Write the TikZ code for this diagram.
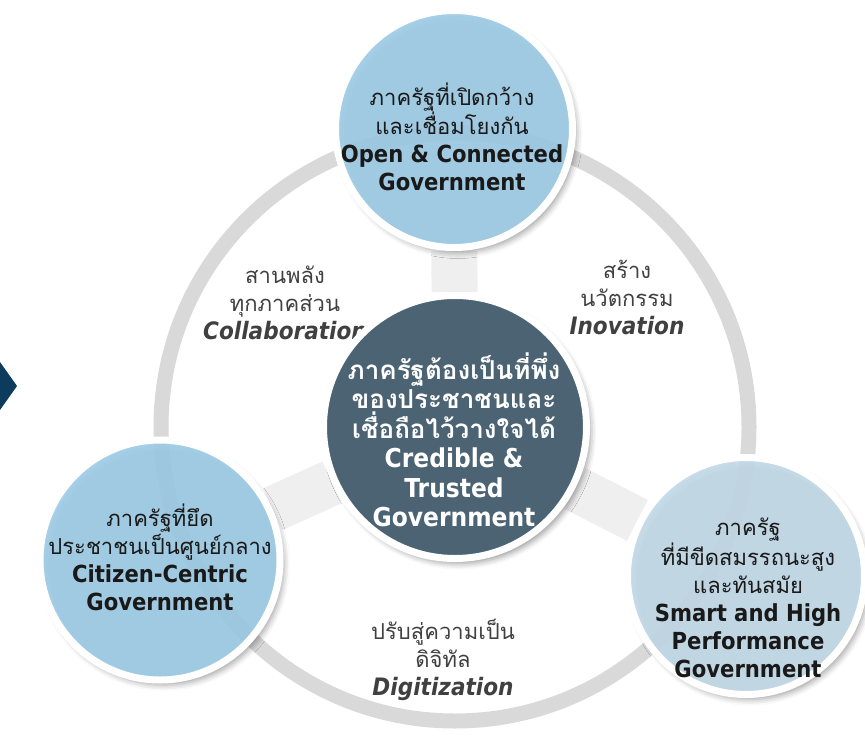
\documentclass[tikz,border=0pt]{standalone}
\usepackage{fontspec}
\setmainfont{DejaVu Sans}[FakeStretch=0.9]
\newfontfamily\thaifont[Script=Thai]{Loma}
\usepackage{tikz}
\usetikzlibrary{shadows.blur,backgrounds}
\definecolor{skyfill}{RGB}{160,206,233}
\definecolor{palefill}{RGB}{197,220,234}
\definecolor{corefill}{RGB}{75,99,115}
\definecolor{ringgray}{RGB}{217,217,217}
\definecolor{spokegray}{RGB}{239,239,239}
\definecolor{labelgray}{RGB}{64,64,64}
\definecolor{chevron}{RGB}{13,59,94}
\newcommand{\engl}[1]{{\rmfamily\bfseries\fontsize{23.5}{28}\selectfont #1}}
\newcommand{\engc}[1]{{\rmfamily\bfseries\fontsize{26}{29.5}\selectfont #1}}
\newcommand{\engi}[1]{{\rmfamily\bfseries\itshape\fontsize{24}{28}\selectfont #1}}
\tikzset{
pillar/.style = {circle, draw=white, line width=7pt, fill=skyfill, fill opacity=0.9, minimum size=237pt, inner sep=0pt, blur shadow={shadow xshift=4pt, shadow yshift=-5pt, shadow blur radius=6pt, shadow opacity=40}},
hub/.style = {pillar, fill=corefill, fill opacity=1, minimum size=263pt},
caption/.style = {align=center, text=black!90, font=\thaifont\fontsize{22}{28}\selectfont},
hubtext/.style = {caption, text=white, font=\thaifont\bfseries\fontsize{26}{29.5}\selectfont},
theme/.style = {caption, text=labelgray},
ring/.style = {draw=ringgray, line width=15pt},
spoke/.style = {draw=spokegray, line width=46pt}
}
\begin{document}
\begin{tikzpicture}[x=1pt, y=-1pt]
\useasboundingbox (0,0) rectangle (865,744);
\fill[chevron] (0,362) -- (17,386) -- (0,410) -- cycle;
\node[theme] (collab) at (285,303) {สานพลัง\\ทุกภาคส่วน\\\engi{Collaboration}};
\node[theme] (innov) at (627,297) {สร้าง\\นวัตกรรม\\\engi{Inovation}};
\node[theme] (digit) at (443,660) {ปรับสู่ความเป็น\\ดิจิทัล\\\engi{Digitization}};
\node[pillar] (open) at (454,129) {};
\node[pillar, minimum size=240pt] (citizen) at (160,560) {};
\node[pillar, fill=palefill] (smart) at (746,576) {};
\node[hub] (core) at (455,427) {};
\node[caption] (open-txt) at (452,137) {ภาครัฐที่เปิดกว้าง\\และเชื่อมโยงกัน\\\engl{Open \& Connected}\\\engl{Government}};
\node[caption] (citizen-txt) at (160,557) {ภาครัฐที่ยึด\\ประชาชนเป็นศูนย์กลาง\\\engl{Citizen-Centric}\\\engl{Government}};
\node[caption] (smart-txt) at (748,598) {ภาครัฐ\\ที่มีขีดสมรรถนะสูง\\และทันสมัย\\\engl{Smart and High}\\\engl{Performance}\\\engl{Government}};
\node[hubtext] (core-txt) at (454,440) {ภาครัฐต้องเป็นที่พึ่ง\\ของประชาชนและ\\เชื่อถือไว้วางใจได้\\\engc{Credible \&}\\\engc{Trusted}\\\engc{Government}};
\begin{scope}[on background layer]
\draw[ring] (core.center) circle[radius=294];
\draw[spoke] (core) -- (open);
\draw[spoke] (core) -- (citizen);
\draw[spoke] (core) -- (smart);
\end{scope}
\end{tikzpicture}
\end{document}
